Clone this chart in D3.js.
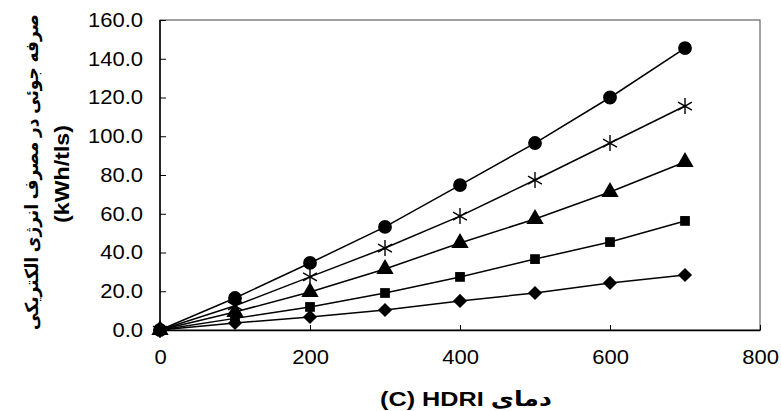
<!DOCTYPE html>
<html lang="fa">
<head>
    <meta charset="UTF-8">
    <title>HDRI chart</title>
    <style>
        body { margin: 0; background: #fff; }
        text { font-family: "Liberation Sans", Arial, "DejaVu Sans", sans-serif; }
    </style>
</head>
<body>
<script src="https://d3js.org/d3.v7.min.js"></script>
<script>
    // temperature (C) and series
    let temps = [0, 100, 200, 300, 400, 500, 600, 700];
    let circleVals = [0, 16.5, 34.6, 53.2, 74.8, 96.5, 120.0, 145.5];
    let starVals = [0, 12.5, 27.4, 42.3, 58.8, 77.4, 96.5, 115.6];
    let triVals = [0, 9.3, 19.6, 31.5, 44.9, 57.3, 71.2, 86.7];
    let squareVals = [0, 6.0, 11.9, 19.1, 27.4, 36.6, 45.4, 56.3];
    let diamondVals = [0, 3.6, 6.7, 10.3, 15.0, 19.1, 24.3, 28.4];

    let xTicks = [0, 200, 400, 600, 800];
    let yTicks = [0, 20, 40, 60, 80, 100, 120, 140, 160];

    let xTitle = "(C) HDRI دمای";
    let yTitle1 = "صرفه جوئی در مصرف انرژی الکتریکی";
    let yTitle2 = "(kWh/tls)";

    let w = 781, h = 411;
    let inner = {left: 160, right: 21, top: 20, bottom: 81};

    let svg = d3.select("body").append("svg")
        .attr("width", w)
        .attr("height", h);

    let x = d3.scaleLinear().domain([0, 800]).range([inner.left, w - inner.right]);
    let y = d3.scaleLinear().domain([0, 160]).range([h - inner.bottom, inner.top]);

    // frame
    svg.append("rect")
        .attr("x", x(0))
        .attr("y", y(160))
        .attr("width", x(800) - x(0))
        .attr("height", y(0) - y(160))
        .attr("fill", "none")
        .attr("stroke", "#444")
        .attr("stroke-width", 1);

    let xAxis = svg.append("g")
        .attr("transform", "translate(0," + y(0) + ")")
        .call(d3.axisBottom(x).tickValues(xTicks).tickFormat(d3.format("d"))
            .tickSizeInner(-5).tickSizeOuter(0).tickPadding(20));
    let yAxis = svg.append("g")
        .attr("transform", "translate(" + x(0) + ",0)")
        .call(d3.axisLeft(y).tickValues(yTicks).tickFormat(d3.format(".1f"))
            .tickSizeInner(-6).tickSizeOuter(0).tickPadding(17));

    [xAxis, yAxis].forEach(function (g) {
        g.selectAll(".domain").attr("stroke", "#000").attr("stroke-width", 1.5);
        g.selectAll(".tick line").attr("stroke", "#000");
        g.selectAll(".tick text")
            .attr("fill", "#000")
            .style("font-size", "20px")
            .style("font-family", "'Liberation Sans', Arial, sans-serif")
            .each(function () {
                // the reference's digits are a little wider than Arial
                let len = this.getComputedTextLength();
                d3.select(this).attr("textLength", len * 1.1).attr("lengthAdjust", "spacingAndGlyphs");
            });
    });
    yAxis.select(".domain").remove();
    svg.append("line")
        .attr("x1", x(0)).attr("x2", x(0))
        .attr("y1", y(0)).attr("y2", y(160))
        .attr("stroke", "#000").attr("stroke-width", 1.5);

    // star marker (6 arms)
    function starPath(s) {
        let p = "";
        for (let i = 0; i < 3; ++i) {
            let a = Math.PI / 2 + i * Math.PI / 3;
            let dx = Math.cos(a) * s, dy = Math.sin(a) * s;
            p += "M" + (-dx) + "," + (-dy) + "L" + dx + "," + dy;
        }
        return p;
    }

    let series = [
        {vals: diamondVals, shape: "diamond"},
        {vals: squareVals, shape: "square"},
        {vals: triVals, shape: "triangle"},
        {vals: starVals, shape: "star"},
        {vals: circleVals, shape: "circle"}
    ];

    let line = d3.line()
        .x(function (d, i) { return x(temps[i]); })
        .y(function (d) { return y(d); });

    series.forEach(function (s) {
        svg.append("path")
            .attr("d", line(s.vals))
            .attr("fill", "none")
            .attr("stroke", "#000")
            .attr("stroke-width", 1.5);
    });

    series.forEach(function (s) {
        let g = svg.append("g");
        let pts = g.selectAll("path")
            .data(s.vals)
            .enter()
            .append("path")
            .attr("transform", function (d, i) {
                let t = "translate(" + x(temps[i]) + "," + y(d) + ")";
                if (s.shape === "diamond") t += " rotate(45)";
                return t;
            });
        if (s.shape === "circle") {
            pts.attr("d", d3.symbol().type(d3.symbolCircle).size(150)).attr("fill", "#000");
        } else if (s.shape === "square") {
            pts.attr("d", d3.symbol().type(d3.symbolSquare).size(95)).attr("fill", "#000");
        } else if (s.shape === "diamond") {
            pts.attr("d", d3.symbol().type(d3.symbolSquare).size(100)).attr("fill", "#000");
        } else if (s.shape === "triangle") {
            pts.attr("d", d3.symbol().type(d3.symbolTriangle).size(130)).attr("fill", "#000");
        } else {
            pts.attr("d", starPath(8)).attr("fill", "none")
                .attr("stroke", "#000").attr("stroke-width", 1.4);
        }
    });

    // fit a title to a wanted length by scaling along its own direction
    function fitTitle(sel, cx, cy, angle, target) {
        let len = sel.node().getComputedTextLength();
        sel.attr("transform", "translate(" + cx + "," + cy + ") rotate(" + angle + ") scale(" + (target / len) + ",1)");
    }

    // axis titles
    let xt = svg.append("text")
        .attr("text-anchor", "middle")
        .style("font-size", "21px")
        .style("font-weight", "bold")
        .text(xTitle);
    fitTitle(xt, 466, 406, 0, 172);

    let yt1 = svg.append("text")
        .attr("text-anchor", "middle")
        .attr("dy", "0.35em")
        .style("font-size", "18px")
        .style("font-weight", "bold")
        .text(yTitle1);
    fitTitle(yt1, 32, 172, -90, 316);

    let yt2 = svg.append("text")
        .attr("text-anchor", "middle")
        .attr("dy", "0.35em")
        .style("font-size", "21px")
        .style("font-weight", "bold")
        .text(yTitle2);
    fitTitle(yt2, 62, 174, -90, 98);
</script>
</body>
</html>
